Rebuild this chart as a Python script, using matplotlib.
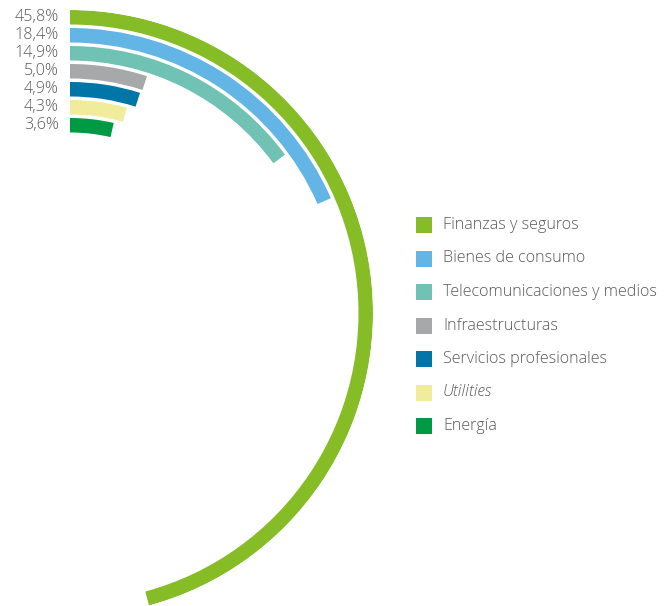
import numpy as np
import matplotlib.pyplot as plt
from matplotlib.patches import Rectangle

# Sector shares (percent of total), outermost ring first
sectors = ["Finanzas y seguros", "Bienes de consumo", "Telecomunicaciones y medios",
           "Infraestructuras", "Servicios profesionales", "Utilities", "Energía"]
shares = [45.8, 18.4, 14.9, 5.0, 4.9, 4.3, 3.6]
share_labels = ["45,8%", "18,4%", "14,9%", "5,0%", "4,9%", "4,3%", "3,6%"]
colors = ["#86bc25", "#62b5e5", "#6fc2b4", "#a7a8aa", "#0076a8", "#f0ec9c", "#009a44"]

W, H = 672, 606
CX, CY = 70, 313          # ring centre (pixels, from top-left)
R_OUT = 303               # outer radius of the outermost ring
RING = 14.5               # ring thickness
PITCH = 18                # distance between ring outer edges

plt.rcParams['font.family'] = ['Open Sans', 'DejaVu Sans']
text_color = "#58595b"

fig = plt.figure(figsize=(W / 100, H / 100), dpi=100)

# Polar axes sized so that one radial unit equals one pixel
ax = fig.add_axes([(CX - R_OUT) / W, (H - CY - R_OUT) / H, 2 * R_OUT / W, 2 * R_OUT / H],
                  projection='polar')
ax.set_theta_zero_location('N')
ax.set_theta_direction(-1)
ax.set_ylim(0, R_OUT)
ax.set_axis_off()

for i, (v, c) in enumerate(zip(shares, colors)):
    outer = R_OUT - i * PITCH
    ax.bar(0, RING, width=v / 100 * 2 * np.pi, bottom=outer - RING,
           align='edge', color=c, edgecolor='none')

# Overlay in pixel coordinates for labels and legend
ov = fig.add_axes([0, 0, 1, 1], facecolor='none')
ov.set_xlim(0, W)
ov.set_ylim(H, 0)
ov.set_axis_off()

for i, lab in enumerate(share_labels):
    yc = CY - (R_OUT - i * PITCH - RING / 2)
    ov.text(59, yc, lab, ha='right', va='center', fontsize=11.6, color=text_color,
            fontweight='light')

LEG_X, LEG_Y, LEG_STEP, SQ = 416, 225, 33.5, 16
for i, (name, c) in enumerate(zip(sectors, colors)):
    y = LEG_Y + i * LEG_STEP
    ov.add_patch(Rectangle((LEG_X, y - SQ / 2), SQ, SQ, color=c, lw=0))
    ov.text(LEG_X + 27, y, name, ha='left', va='center', fontsize=11.6, color=text_color,
            fontweight='light', style='italic' if name == "Utilities" else 'normal')

fig.savefig("out.png", dpi=100)
